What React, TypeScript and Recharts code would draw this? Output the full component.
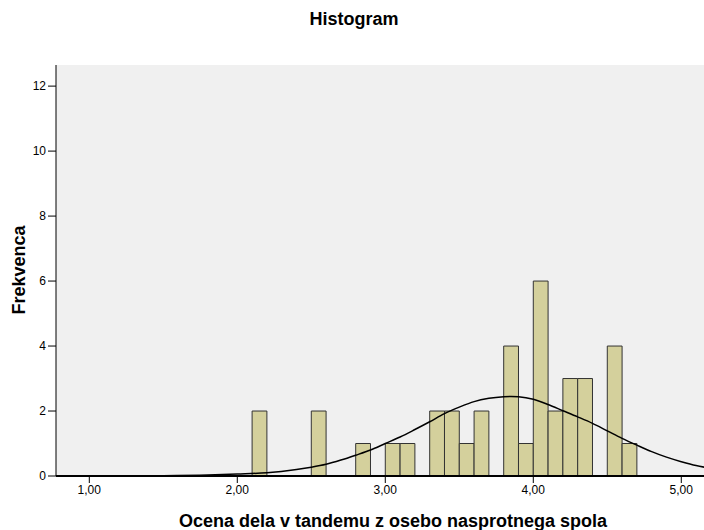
import React from "react";
import {
  ComposedChart,
  XAxis,
  YAxis,
  CartesianGrid,
  ReferenceArea,
  Line,
} from "recharts";

// Histogram bins (start of each 0.1-wide bin) and their counts
const binStarts = [2.1, 2.5, 2.8, 3.0, 3.1, 3.3, 3.4, 3.5, 3.6, 3.8, 3.9, 4.0, 4.1, 4.2, 4.3, 4.5, 4.6];
const binCounts = [2, 2, 1, 1, 1, 2, 2, 1, 2, 4, 1, 6, 2, 3, 3, 4, 1];
const binWidth = 0.1;

// Normal curve
const curveX = [1.5, 1.8, 2.0, 2.2, 2.4, 2.5, 2.6, 2.7, 2.8, 2.9, 3.0, 3.1, 3.2, 3.3, 3.4, 3.5, 3.6, 3.7, 3.8, 3.85, 3.9, 4.0, 4.1, 4.2, 4.3, 4.4, 4.5, 4.6, 4.7, 4.8, 4.9, 5.0, 5.1, 5.17];
const curveY = [0.01, 0.03, 0.06, 0.1, 0.2, 0.27, 0.36, 0.49, 0.64, 0.8, 1.0, 1.2, 1.43, 1.67, 1.92, 2.12, 2.29, 2.39, 2.44, 2.45, 2.44, 2.36, 2.2, 2.01, 1.82, 1.62, 1.39, 1.16, 0.95, 0.75, 0.58, 0.44, 0.32, 0.26];

const xTicks = [1, 2, 3, 4, 5];
const yTicks = [0, 2, 4, 6, 8, 10, 12];

const title = "Histogram";
const xLabel = "Ocena dela v tandemu z osebo nasprotnega spola";
const yLabel = "Frekvenca";

const lineData = curveX.map((x, i) => ({ x, y: curveY[i] }));

const FONT = "'Liberation Sans', Arial, sans-serif";
const xDomain: [number, number] = [0.775, 5.167];
const yDomain: [number, number] = [0, 12.65];

const fmt = (v: number) => v.toFixed(2).replace(".", ",");

export default function App() {
  return (
    <div
      style={{
        position: "fixed",
        left: 0,
        top: 0,
        width: 704,
        height: 530,
        overflow: "hidden",
        background: "#fff",
        fontFamily: FONT,
      }}
    >
      <ComposedChart
        width={708}
        height={530}
        margin={{ top: 65, right: 2, bottom: 0, left: 0 }}
      >
        <CartesianGrid horizontal={false} vertical={false} fill="#f0f0f0" stroke="none" />
        <XAxis
          xAxisId={0}
          dataKey="x"
          type="number"
          domain={xDomain}
          ticks={xTicks}
          allowDataOverflow
          tickFormatter={fmt}
          height={54}
          tickSize={7}
          tickLine={{ stroke: "#000" }}
          axisLine={{ stroke: "#000", strokeWidth: 2 }}
          tick={{ fontSize: 12, fill: "#000", fontFamily: FONT }}
        />
        <XAxis
          xAxisId="top"
          orientation="top"
          type="number"
          domain={xDomain}
          allowDataOverflow
          height={0}
          tick={false}
          tickLine={false}
          axisLine={{ stroke: "#000" }}
        />
        <YAxis
          type="number"
          domain={yDomain}
          ticks={yTicks}
          allowDataOverflow
          width={56}
          tickSize={8}
          tickLine={{ stroke: "#000" }}
          axisLine={{ stroke: "#000" }}
          tick={{ fontSize: 12, fill: "#000", fontFamily: FONT }}
        />
        {binStarts.map((s, i) => (
          <ReferenceArea
            key={i}
            x1={s}
            x2={s + binWidth}
            y1={0}
            y2={binCounts[i]}
            fill="#d4d09c"
            fillOpacity={1}
            stroke="#333"
            strokeWidth={1}
            ifOverflow="visible"
          />
        ))}
        <Line
          data={lineData}
          dataKey="y"
          type="monotone"
          stroke="#000"
          strokeWidth={1.5}
          dot={false}
          activeDot={false}
          isAnimationActive={false}
        />
      </ComposedChart>
      <svg
        width={704}
        height={530}
        style={{ position: "absolute", left: 0, top: 0, pointerEvents: "none" }}
      >
        <text x={354} y={25} textAnchor="middle" fontSize={18} fontWeight="bold" fontFamily={FONT} fill="#000">
          {title}
        </text>
        <text x={393} y={527} textAnchor="middle" fontSize={18} fontWeight="bold" fontFamily={FONT} fill="#000">
          {xLabel}
        </text>
        <text
          x={0}
          y={0}
          transform="translate(25,270) rotate(-90)"
          textAnchor="middle"
          fontSize={18}
          fontWeight="bold"
          fontFamily={FONT}
          fill="#000"
        >
          {yLabel}
        </text>
      </svg>
    </div>
  );
}
